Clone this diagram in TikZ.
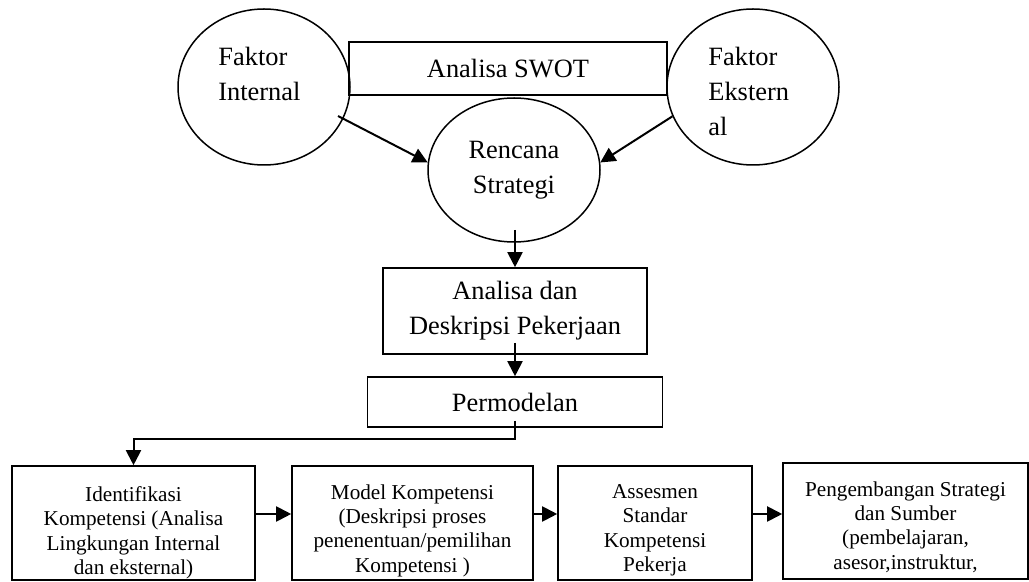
\documentclass[tikz,border=0pt]{standalone}
\usepackage{fontspec}
\setmainfont{Liberation Serif}
\usetikzlibrary{arrows.meta,shapes.geometric}
\pgfdeclarelayer{nodelayer}
\pgfdeclarelayer{edgelayer}
\pgfsetlayers{edgelayer,nodelayer,main}
\newcommand{\bigtext}{\fontsize{13.2}{17.5}\selectfont}
\newcommand{\smalltext}{\fontsize{10.6}{12.2}\selectfont}
\tikzstyle{oval style}=[fill=none, draw=black, shape=ellipse, line width=0.75pt, inner sep=0pt, minimum width=86pt, minimum height=78pt, align=center, font=\bigtext]
\tikzstyle{box style}=[fill=none, draw=black, shape=rectangle, line width=0.8pt, inner sep=0pt, align=center, font=\bigtext]
\tikzstyle{text style}=[fill=none, draw=none, inner sep=0pt]
\tikzstyle{arrow edge}=[draw=black, line width=1pt, -{Triangle[length=7.5pt, width=7.5pt]}]

\begin{document}
\begin{tikzpicture}[x=0.5pt, y=-0.5pt]
	\useasboundingbox (0, 0) rectangle (1029, 582);
	\begin{pgfonlayer}{nodelayer}
		\node [style=oval style] (0) at (264, 87) {};
		\node [style=oval style] (1) at (753, 87) {};
		\node [style=oval style, minimum height=72pt] (2) at (514, 170) {Rencana\\Strategi};
		\node [style=box style, minimum width=159pt, minimum height=26.5pt] (3) at (508, 68.5) {Analisa SWOT};
		\node [style=box style, minimum width=132pt, minimum height=43pt] (4) at (515, 311) {Analisa dan\\Deskripsi Pekerjaan};
		\node [style=box style, minimum width=147.5pt, minimum height=25pt] (5) at (515, 402) {Permodelan};
		\node [style=box style, minimum width=121.5pt, minimum height=57pt] (6) at (133.5, 523) {};
		\node [style=box style, minimum width=120.5pt, minimum height=57pt] (7) at (412.5, 523) {};
		\node [style=box style, minimum width=97pt, minimum height=57pt] (8) at (655, 523) {};
		\node [style=box style, minimum width=122.5pt, minimum height=58pt] (9) at (905.5, 521) {};
		\node [style=text style, anchor=north west, align=left, font=\bigtext] (10) at (218, 47) {Faktor\\Internal};
		\node [style=text style, anchor=north west, align=left, font=\bigtext] (11) at (708, 47) {Faktor\\Ekstern\\al};
		\node [style=text style, anchor=north, align=center, font=\smalltext] (12) at (133.5, 486) {Identifikasi\\Kompetensi (Analisa\\Lingkungan Internal\\dan eksternal)};
		\node [style=text style, anchor=north, align=center, font=\smalltext] (13) at (412.5, 484) {Model Kompetensi\\(Deskripsi proses\\penenentuan/pemilihan\\Kompetensi )};
		\node [style=text style, anchor=north, align=center, font=\smalltext] (14) at (655, 484) {Assesmen\\Standar\\Kompetensi\\Pekerja};
		\node [style=text style, anchor=north, align=center, font=\smalltext] (15) at (905.5, 481) {Pengembangan Strategi\\dan Sumber\\(pembelajaran,\\asesor,instruktur,};
		\coordinate (16) at (338, 116);
		\coordinate (17) at (515, 230);
		\coordinate (18) at (515, 343);
		\coordinate (19) at (515, 421);
		\coordinate (20) at (515, 439);
	\end{pgfonlayer}
	\begin{pgfonlayer}{edgelayer}
		\draw [style=arrow edge] (16) to (2.175);
		\draw [style=arrow edge] (1.200) to (2.5);
		\draw [style=arrow edge] (17) to (4.north);
		\draw [style=arrow edge] (18) to (5.north);
		\draw [style=arrow edge] (19) -- (20) -| (6.north);
		\draw [style=arrow edge] ([yshift=4.5pt]6.east) to ([yshift=4.5pt]7.west);
		\draw [style=arrow edge] ([yshift=4.5pt]7.east) to ([yshift=4.5pt]8.west);
		\draw [style=arrow edge] ([yshift=4.5pt]8.east) to ([yshift=3.5pt]9.west);
	\end{pgfonlayer}
\end{tikzpicture}
\end{document}
